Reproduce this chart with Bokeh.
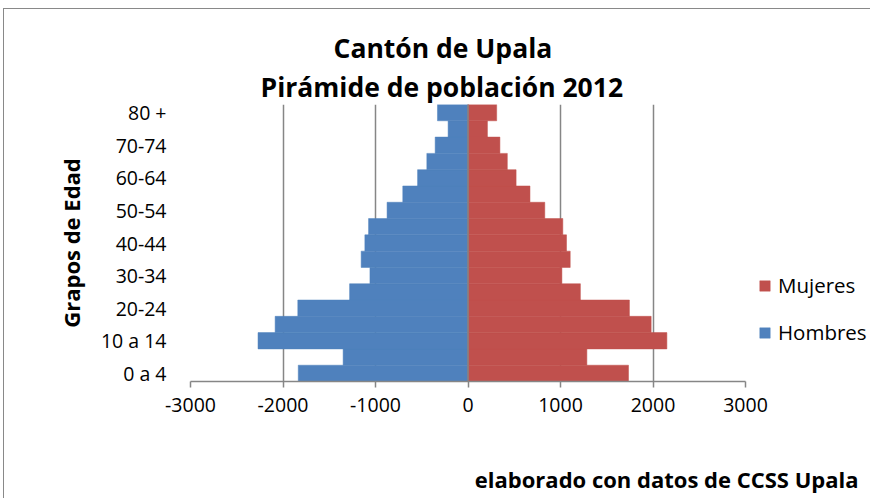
from bokeh.plotting import figure
from bokeh.models import Range1d, FixedTicker, Span, Legend, LegendItem, ColumnDataSource, Title
from bokeh.embed import file_html
from bokeh.resources import INLINE

# ---- data ----
age_groups = ["0 a 4", "5 a 9", "10 a 14", "15-19", "20-24", "25-29", "30-34", "35-39",
              "40-44", "45-49", "50-54", "55-59", "60-64", "65-69", "70-74", "75-79", "80 +"]
hombres = [1835, 1350, 2270, 2085, 1840, 1280, 1060, 1155, 1115, 1075, 875, 705, 545, 445, 355, 215, 330]
mujeres = [1735, 1285, 2150, 1980, 1745, 1215, 1015, 1105, 1065, 1025, 830, 670, 520, 425, 345, 210, 310]
x_ticks = [-3000, -2000, -1000, 0, 1000, 2000, 3000]

title_1 = "Cantón de Upala"
title_2 = "Pirámide de población 2012"
y_title = "Grapos de Edad"
footer = "elaborado con datos de CCSS Upala"

BLUE = "#4F81BD"
RED = "#C0504D"
GREY = "#868686"
FONT = "Open Sans"

n = len(age_groups)
ypos = [i + 0.5 for i in range(n)]
src = ColumnDataSource(dict(
    y=ypos,
    h_left=[-v for v in hombres],
    zero=[0] * n,
    m_right=mujeres,
))

p = figure(output_backend="svg", toolbar_location=None,
           frame_width=555, frame_height=277,
           min_border_left=186, min_border_right=122,
           min_border_top=95, min_border_bottom=117,
           x_range=Range1d(x_ticks[0], x_ticks[-1]), y_range=Range1d(0, n))
p.outline_line_color = None
p.background_fill_color = "white"
p.border_fill_color = "white"
p.styles = {"margin-left": "3px", "margin-top": "8px",
            "border-left": "1.5px solid #898989", "border-top": "1.5px solid #898989",
            "border-right": "none", "border-bottom": "none"}

r_h = p.hbar(y="y", left="h_left", right="zero", height=1, source=src,
             fill_color=BLUE, line_color=BLUE, line_width=0.5)
r_m = p.hbar(y="y", left="zero", right="m_right", height=1, source=src,
             fill_color=RED, line_color=RED, line_width=0.5)

p.add_layout(Span(location=0, dimension="height", line_color=GREY, line_width=1.5))

# grid
p.ygrid.visible = False
p.xgrid.ticker = FixedTicker(ticks=x_ticks)
p.xgrid.grid_line_color = GREY
p.xgrid.grid_line_width = 1.5

# x axis
p.xaxis.ticker = FixedTicker(ticks=x_ticks)
p.xaxis.major_label_overrides = {t: str(t) for t in x_ticks}
p.xaxis.axis_line_color = GREY
p.xaxis.axis_line_width = 1.5
p.xaxis.major_tick_line_color = GREY
p.xaxis.major_tick_line_width = 1.5
p.xaxis.major_tick_out = 6
p.xaxis.major_tick_in = 0
p.xaxis.minor_tick_line_color = None
p.xaxis.major_label_standoff = 10
p.xaxis.major_label_text_font = FONT
p.xaxis.major_label_text_font_size = "19.5px"
p.xaxis.major_label_text_color = "black"
# blank axis label used only as spacing before the footer
p.xaxis.axis_label = " "
p.xaxis.axis_label_text_font_size = "10px"
p.xaxis.axis_label_standoff = 31

# y axis
p.yaxis.ticker = FixedTicker(ticks=ypos[::2])
p.yaxis.major_label_overrides = {ypos[i]: age_groups[i] for i in range(0, n, 2)}
p.yaxis.axis_line_color = None
p.yaxis.major_tick_line_color = None
p.yaxis.minor_tick_line_color = None
p.yaxis.major_tick_out = 0
p.yaxis.major_tick_in = 0
p.yaxis.major_label_standoff = 24
p.yaxis.major_label_text_font = FONT
p.yaxis.major_label_text_font_size = "19.5px"
p.yaxis.major_label_text_color = "black"
p.yaxis.axis_label = y_title
p.yaxis.axis_label_text_font = FONT
p.yaxis.axis_label_text_font_style = "bold"
p.yaxis.axis_label_text_font_size = "22px"
p.yaxis.axis_label_text_color = "black"
p.yaxis.axis_label_standoff = 12

# titles (added closest-to-frame first) and footer
p.add_layout(Title(text=title_2, align="left", offset=70, standoff=0,
                   text_font=FONT, text_font_style="bold", text_font_size="26.5px",
                   text_color="black"), "above")
p.add_layout(Title(text=title_1, align="left", offset=143, standoff=2,
                   text_font=FONT, text_font_style="bold", text_font_size="26.5px",
                   text_color="black"), "above")
p.add_layout(Title(text=footer, align="right", offset=-113, standoff=4,
                   text_font=FONT, text_font_style="bold", text_font_size="22px",
                   text_color="black"), "below")

legend = Legend(items=[LegendItem(label="Mujeres", renderers=[r_m]),
                       LegendItem(label="Hombres", renderers=[r_h])],
                location=(13, 35), orientation="vertical")
legend.border_line_color = None
legend.background_fill_alpha = 0
legend.padding = 0
legend.margin = 0
legend.glyph_width = 13
legend.glyph_height = 13
legend.label_height = 22
legend.spacing = 19
legend.label_standoff = 7
legend.label_text_font = FONT
legend.label_text_font_size = "20.5px"
legend.label_text_color = "black"
legend.label_text_baseline = "middle"
p.add_layout(legend, "right")

open("out.html", "w").write(file_html(p, INLINE))
